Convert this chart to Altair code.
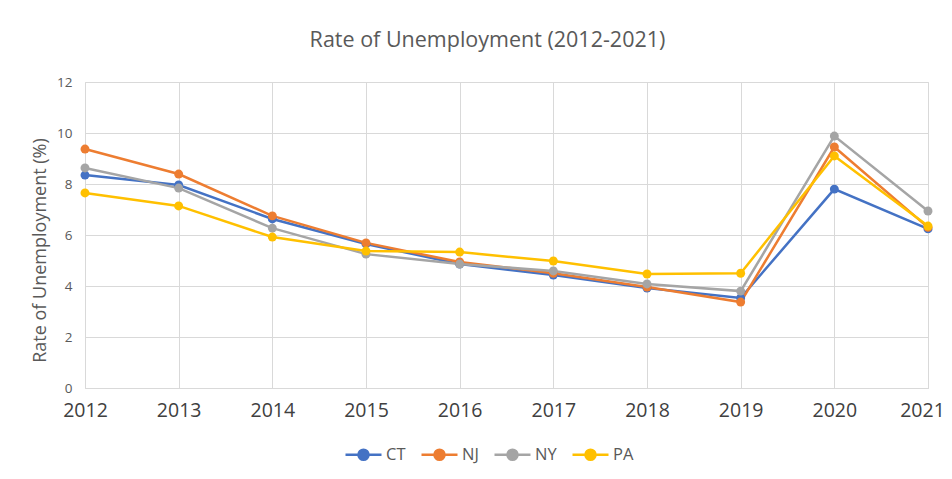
import altair as alt
import pandas as pd

years = [2012, 2013, 2014, 2015, 2016, 2017, 2018, 2019, 2020, 2021]
ct = [8.35, 7.96, 6.63, 5.65, 4.86, 4.43, 3.92, 3.53, 7.80, 6.24]
nj = [9.37, 8.39, 6.75, 5.69, 4.94, 4.50, 3.96, 3.37, 9.45, 6.30]
ny = [8.63, 7.84, 6.27, 5.25, 4.86, 4.59, 4.08, 3.80, 9.88, 6.94]
pa = [7.65, 7.14, 5.92, 5.37, 5.33, 4.98, 4.47, 4.50, 9.10, 6.35]
states = ["CT", "NJ", "NY", "PA"]
colors = ["#4472C4", "#ED7D31", "#A5A5A5", "#FFC000"]
y_ticks = [0, 2, 4, 6, 8, 10, 12]

rows = []
for s, vals in zip(states, [ct, nj, ny, pa]):
    for yr, v in zip(years, vals):
        rows.append({"Year": yr, "State": s, "Rate": v})
df = pd.DataFrame(rows)

font = "Open Sans"
sym = "M-1,0H1M0.28,0A0.28,0.28 0 1,1 -0.28,0A0.28,0.28 0 1,1 0.28,0Z"

color = alt.Color(
    "State:N",
    scale=alt.Scale(domain=states, range=colors),
    legend=alt.Legend(
        title=None,
        orient="none",
        direction="horizontal",
        legendX=259,
        legendY=353,
        symbolType=sym,
        symbolSize=1296,
        symbolStrokeWidth=2.5,
        labelFontSize=16.5,
        labelColor="#595959",
        labelFont=font,
        labelOffset=3,
        columnPadding=10,
    ),
)

x = alt.X(
    "Year:Q",
    scale=alt.Scale(domain=[2012, 2021], nice=False, zero=False),
    axis=alt.Axis(
        values=years,
        format="d",
        title=None,
        ticks=False,
        domain=True,
        domainColor="#D9D9D9",
        grid=True,
        gridColor="#D9D9D9",
        labelFontSize=19.5,
        labelColor="#404040",
        labelFont=font,
        labelPadding=13,
        labelFlush=False,
        labelOffset=alt.condition("datum.value == 2021", alt.value(-6), alt.value(0)),
    ),
)
y = alt.Y(
    "Rate:Q",
    scale=alt.Scale(domain=[0, 12], nice=False),
    axis=alt.Axis(
        values=y_ticks,
        title="Rate of Unemployment (%)",
        titleFontSize=18,
        titleFontWeight="normal",
        titleColor="#595959",
        titleFont=font,
        titlePadding=7,
        titleY=168,
        ticks=False,
        domain=False,
        grid=True,
        gridColor="#D9D9D9",
        labelFontSize=13.5,
        labelColor="#595959",
        labelFont=font,
        labelPadding=13,
    ),
)

base = alt.Chart(df).encode(x=x, y=y, color=color, order="Year:Q")
lines = base.mark_line(strokeWidth=2.5)
points = base.mark_point(filled=True, size=80, opacity=1)

chart = (
    alt.layer(lines, points)
    .properties(
        width=843,
        height=306,
        title=alt.TitleParams(
            "Rate of Unemployment (2012-2021)",
            fontSize=21.5,
            fontWeight="normal",
            color="#595959",
            font=font,
            anchor="middle",
            dx=-19,
            offset=24,
        ),
        autosize=alt.AutoSizeParams(type="none"),
        padding={"left": 77, "top": 74, "right": 16, "bottom": 83},
    )
    .configure_view(stroke=None)
    .configure(background="white")
)

chart.save("out.html", embed_options={"renderer": "svg", "actions": False})
